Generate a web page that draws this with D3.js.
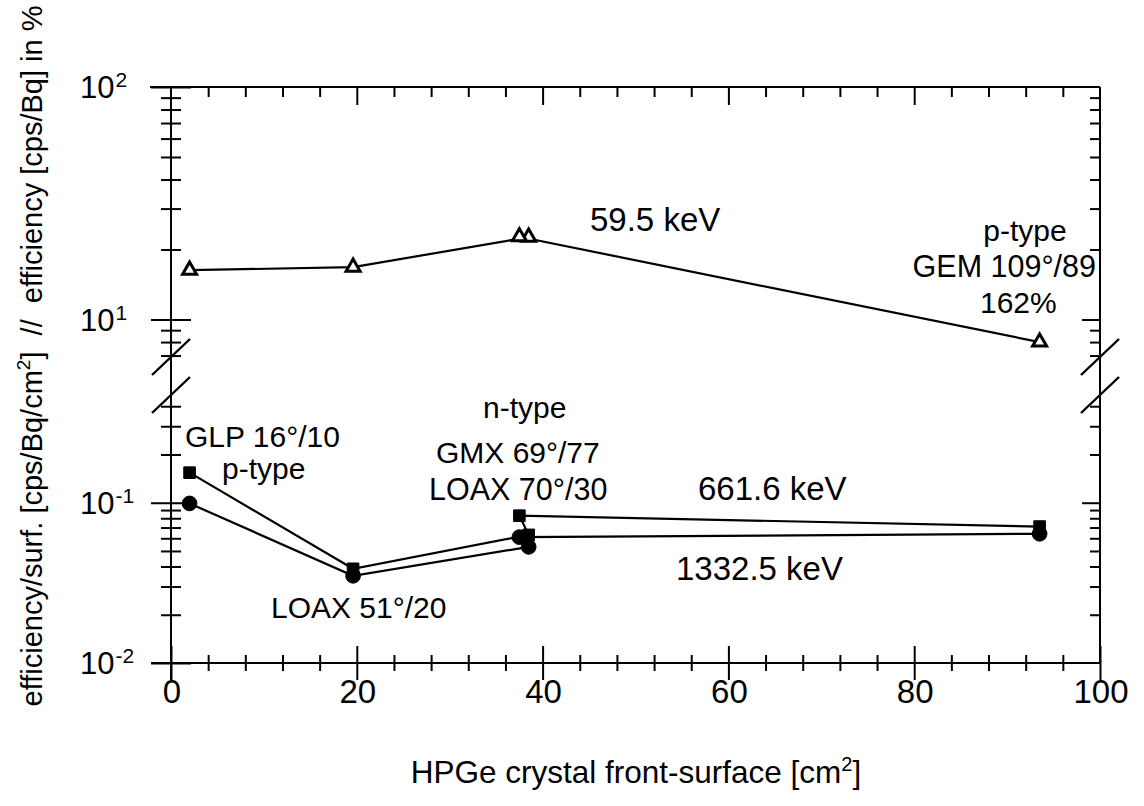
<!DOCTYPE html>
<html><head><meta charset="utf-8">
<script src="https://cdn.jsdelivr.net/npm/d3@7"></script>
<style>
body{margin:0;background:#fff}
svg text{font-family:"Liberation Sans",Arial,Helvetica,sans-serif;fill:#000}
</style>
</head><body>
<svg id="c" width="1144" height="806"></svg>
<script>
// ---- data ----
const detectors = ["GLP 16°/10", "LOAX 51°/20", "LOAX 70°/30", "GMX 69°/77", "GEM 109°/89"];
const surface   = [2.0, 19.6, 38.5, 37.5, 93.5];        // cm^2
const eff595    = [16.3, 16.8, 22.6, 22.7, 8.0];        // % (59.5 keV)
const eff6616   = [0.154, 0.0387, 0.063, 0.083, 0.071]; // cps/Bq/cm^2 (661.6 keV)
const eff13325  = [0.099, 0.035, 0.053, 0.061, 0.064];  // cps/Bq/cm^2 (1332.5 keV)
const xMajor = [0, 20, 40, 60, 80, 100];
const xMinor = d3.range(4, 100, 4).filter(v => v % 20 !== 0);
const yTopMajor = [10, 100];
const yTopMinor = [7, 8, 9, 20, 30, 40, 50, 60, 70, 80, 90];
const yBotMajor = [0.01, 0.1];
const yBotMinor = [0.02, 0.03, 0.04, 0.05, 0.06, 0.07, 0.08, 0.09, 0.2, 0.3, 0.4];
const yTopLabels = [{v:100, b:"10", e:"2"}, {v:10, b:"10", e:"1"}];
const yBotLabels = [{v:0.1, b:"10", e:"-1"}, {v:0.01, b:"10", e:"-2"}];

// ---- scales ----
const svg = d3.select("#c");
const x = d3.scaleLinear().domain([0, 100]).range([171, 1100]);
const yTop = d3.scaleLog().domain([6.9, 100]).range([357, 87]);
const yBot = d3.scaleLog().domain([0.01, 0.47]).range([663, 395]);
const X0 = x(0), X1 = x(100), YT = yTop(100), YB = yBot(0.01);

const FS = 30;

// ---- axes ----
function styleAxis(g) {
  g.select(".domain").remove();
  g.selectAll("line").attr("stroke", "#000").attr("stroke-width", 2);
  g.selectAll("text").remove();
}
function bottomAxis(vals, half) {
  const g = svg.append("g").attr("transform", `translate(0,${YB})`)
    .call(d3.axisBottom(x).tickValues(vals).tickSize(half).tickFormat(""));
  styleAxis(g);
  g.selectAll(".tick line").attr("y1", -half).attr("y2", half);
}
bottomAxis(xMajor, 17);
bottomAxis(xMinor, 8);
function topAxis(vals, len) {
  const g = svg.append("g").attr("transform", `translate(0,${YT})`)
    .call(d3.axisTop(x).tickValues(vals).tickSize(-len).tickFormat(""));
  styleAxis(g);
}
topAxis(xMajor.filter(v => v > 0 && v < 100), 18);
topAxis(xMinor, 10);
function leftAxis(scale, vals, half) {
  const g = svg.append("g").attr("transform", `translate(${X0},0)`)
    .call(d3.axisLeft(scale).tickValues(vals).tickSize(half).tickFormat(""));
  styleAxis(g);
  g.selectAll(".tick line").attr("x1", -half).attr("x2", half);
}
leftAxis(yTop, yTopMajor, 20);
leftAxis(yTop, yTopMinor, 10);
leftAxis(yBot, yBotMajor, 20);
leftAxis(yBot, yBotMinor, 10);
function rightAxis(scale, vals, len) {
  const g = svg.append("g").attr("transform", `translate(${X1},0)`)
    .call(d3.axisRight(scale).tickValues(vals).tickSize(-len).tickFormat(""));
  styleAxis(g);
}
rightAxis(yTop, [10], 18);
rightAxis(yTop, yTopMinor, 10);
rightAxis(yBot, [0.1], 18);
rightAxis(yBot, yBotMinor, 10);

// frame lines
const frame = svg.append("g").attr("stroke", "#000").attr("stroke-width", 2).attr("fill", "none");
frame.append("line").attr("x1", X0 - 21).attr("x2", X1).attr("y1", YT).attr("y2", YT);
frame.append("line").attr("x1", X0 - 20).attr("x2", X1).attr("y1", YB).attr("y2", YB);
frame.append("line").attr("x1", X0).attr("x2", X0).attr("y1", YT).attr("y2", YB + 17);
frame.append("line").attr("x1", X1).attr("x2", X1).attr("y1", YT).attr("y2", YB);
// break marks
const yBreakTop = yTop.range()[0], yBreakBot = yBot.range()[1];
[X0, X1].forEach(cx => {
  [yBreakTop, yBreakBot].forEach(cy => {
    frame.append("line").attr("x1", cx - 19).attr("y1", cy + 18)
      .attr("x2", cx + 19).attr("y2", cy - 18).attr("stroke-width", 2.4);
  });
});

// tick labels
svg.append("g").selectAll("text").data(xMajor).join("text")
  .attr("x", d => x(d) + 1).attr("y", YB + 40).attr("text-anchor", "middle")
  .attr("font-size", 33).text(d => d);

function yLabel(scale, items) {
  items.forEach(it => {
    const t = svg.append("text").attr("x", 80).attr("y", scale(it.v) + 11).attr("font-size", 31);
    t.append("tspan").text(it.b);
    t.append("tspan").attr("font-size", 21).attr("dy", -11).attr("dx", 1).text(it.e);
  });
}
yLabel(yTop, yTopLabels);
yLabel(yBot, yBotLabels);

// axis titles
const xt = svg.append("text").attr("x", 636).attr("y", 783).attr("text-anchor", "middle").attr("font-size", 31.5);
xt.append("tspan").text("HPGe crystal front-surface [cm");
xt.append("tspan").attr("font-size", 20).attr("dy", -12).text("2");
xt.append("tspan").attr("dy", 12).text("]");

const yt = svg.append("text").attr("transform", "translate(42,356) rotate(-90)")
  .attr("text-anchor", "middle").attr("font-size", 29).attr("xml:space", "preserve");
yt.append("tspan").text("efficiency/surf. [cps/Bq/cm");
yt.append("tspan").attr("font-size", 19).attr("dy", -12).text("2");
yt.append("tspan").attr("dy", 12).text("]\u00a0\u00a0//\u00a0\u00a0efficiency [cps/Bq] in %");

// ---- series ----
const idx = d3.range(surface.length);
function series(scale, vals) {
  svg.append("path").datum(idx)
    .attr("fill", "none").attr("stroke", "#000").attr("stroke-width", 2.2)
    .attr("d", d3.line().x(i => x(surface[i])).y(i => scale(vals[i])));
}
series(yTop, eff595);
series(yBot, eff13325);
series(yBot, eff6616);

function markers(scale, vals, type, size, fill, sw) {
  svg.append("g").selectAll("path").data(idx).join("path")
    .attr("transform", i => `translate(${x(surface[i])},${scale(vals[i])})`)
    .attr("d", d3.symbol().type(type).size(size))
    .attr("fill", fill).attr("stroke", "#000").attr("stroke-width", sw);
}
markers(yTop, eff595, d3.symbolTriangle, 85, "#fff", 3);
markers(yBot, eff13325, d3.symbolCircle, 170, "#000", 1);
markers(yBot, eff6616, d3.symbolSquare, 135, "#000", 1);

// ---- annotations ----
const notes = [
  {t:"59.5 keV",     x:590,  y:231, a:"start", s:33},
  {t:"p-type",       x:1025, y:241, a:"middle", s:30},
  {t:"GEM 109°/89",  x:1096, y:277, a:"end", s:30.5},
  {t:"162%",         x:980,  y:313, a:"start", s:30},
  {t:"GLP 16°/10",   x:185,  y:447, a:"start", s:30},
  {t:"p-type",       x:222,  y:479, a:"start", s:30},
  {t:"n-type",       x:483,  y:418, a:"start", s:30},
  {t:"GMX 69°/77",   x:436,  y:463, a:"start", s:30},
  {t:"LOAX 70°/30",  x:429,  y:500, a:"start", s:30.5},
  {t:"661.6 keV",    x:698,  y:500, a:"start", s:33},
  {t:"1332.5 keV",   x:676,  y:580, a:"start", s:33},
  {t:"LOAX 51°/20",  x:271,  y:618, a:"start", s:30}
];
svg.append("g").selectAll("text").data(notes).join("text")
  .attr("x", d => d.x).attr("y", d => d.y).attr("text-anchor", d => d.a)
  .attr("font-size", d => d.s).text(d => d.t);
</script>
</body></html>
